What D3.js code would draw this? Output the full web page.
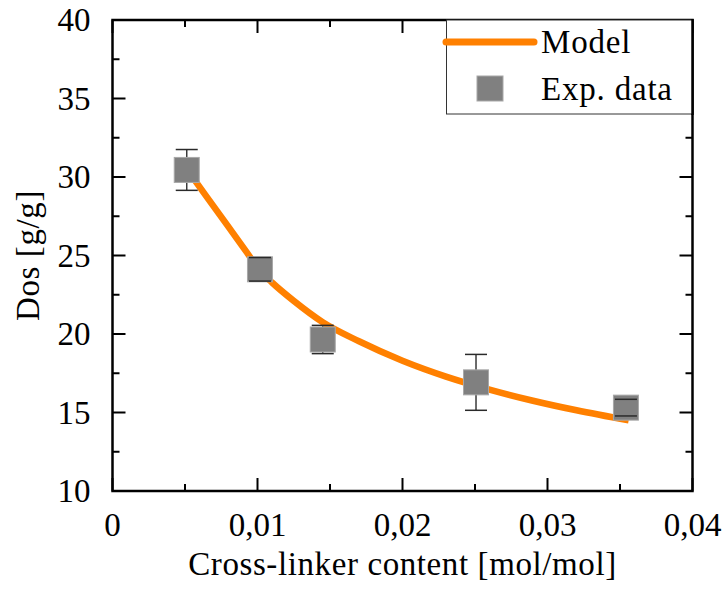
<!DOCTYPE html>
<html>
<head>
<meta charset="utf-8">
<script src="https://cdn.jsdelivr.net/npm/d3@7"></script>
<style>
  body { margin: 0; background: #fff; }
  svg text { font-family: "Liberation Serif", "DejaVu Serif", serif; fill: #000; }
</style>
</head>
<body>
<div id="chart"></div>
<script>
// experimental points
const expX = [0.00512, 0.01017, 0.0145, 0.02507, 0.03541];
const expY = [30.45, 24.12, 19.65, 16.92, 15.31];
const expErr = [1.3, 0.75, 0.9, 1.78, 0.53];

// model curve
const modelX = [0.0052, 0.0065, 0.0080, 0.0092, 0.0102, 0.0110, 0.0125, 0.0145, 0.0170, 0.0200, 0.0230, 0.0260, 0.0290, 0.0320, 0.0356];
const modelY = [30.4, 28.74, 26.82, 25.28, 24.0, 23.28, 22.11, 20.75, 19.54, 18.30, 17.29, 16.46, 15.75, 15.14, 14.5];

const xTicks = [0, 0.01, 0.02, 0.03, 0.04];
const yTicks = [10, 15, 20, 25, 30, 35, 40];
const legendLabels = ["Model", "Exp. data"];

const W = 728, H = 593;
const margin = { top: 20, right: 35.5, bottom: 102, left: 112.5 };
const width = W - margin.left - margin.right;
const height = H - margin.top - margin.bottom;
const fontSize = "33px";

const svg = d3.select("#chart").append("svg")
  .attr("width", W).attr("height", H);
const g = svg.append("g")
  .attr("transform", `translate(${margin.left},${margin.top})`);

const x = d3.scaleLinear().domain([0, 0.04]).range([0, width]);
const y = d3.scaleLinear().domain([10, 40]).range([height, 0]);

const fmt = (d) => d === 0 ? "0" : d3.format(".2f")(d).replace(".", ",");

// model line
const line = d3.line()
  .x((d) => x(d[0]))
  .y((d) => y(d[1]))
  .curve(d3.curveMonotoneX);
g.append("path")
  .datum(modelX.map((v, i) => [v, modelY[i]]))
  .attr("d", line)
  .attr("fill", "none")
  .attr("stroke", "#ff8000")
  .attr("stroke-width", 6.5);

const pts = expX.map((v, i) => ({ x: v, y: expY[i], e: expErr[i] }));
const ms = 25, cap = 11;

// error bar stems
g.selectAll(".stem").data(pts).join("line")
  .attr("x1", (d) => x(d.x)).attr("x2", (d) => x(d.x))
  .attr("y1", (d) => y(d.y + d.e)).attr("y2", (d) => y(d.y - d.e))
  .attr("stroke", "#3a3a3a").attr("stroke-width", 1.5);

// markers
g.selectAll(".mk").data(pts).join("rect")
  .attr("x", (d) => x(d.x) - ms / 2)
  .attr("y", (d) => y(d.y) - ms / 2)
  .attr("width", ms).attr("height", ms)
  .attr("fill", "#808080")
  .attr("stroke", "#a8a8a8").attr("stroke-width", 1);

// caps
pts.forEach((d) => {
  [d.y + d.e, d.y - d.e].forEach((v) => {
    g.append("line")
      .attr("x1", x(d.x) - cap).attr("x2", x(d.x) + cap)
      .attr("y1", y(v)).attr("y2", y(v))
      .attr("stroke", "#2a2a2a").attr("stroke-width", 1.5);
  });
});

// ticks on all four sides, pointing inward
const xMinor = d3.range(0.005, 0.04, 0.01);
const yMinor = d3.range(12.5, 40, 5);
const tk = g.append("g").attr("stroke", "#000").attr("stroke-width", 2);
xTicks.concat(xMinor).forEach((v) => {
  const len = xTicks.includes(v) ? 13 : 7;
  tk.append("line").attr("x1", x(v)).attr("x2", x(v)).attr("y1", height).attr("y2", height - len);
  tk.append("line").attr("x1", x(v)).attr("x2", x(v)).attr("y1", 0).attr("y2", len);
});
yTicks.concat(yMinor).forEach((v) => {
  const len = yTicks.includes(v) ? 13 : 7;
  tk.append("line").attr("y1", y(v)).attr("y2", y(v)).attr("x1", 0).attr("x2", len);
  tk.append("line").attr("y1", y(v)).attr("y2", y(v)).attr("x1", width).attr("x2", width - len);
});

// frame
g.append("rect")
  .attr("width", width).attr("height", height)
  .attr("fill", "none").attr("stroke", "#000").attr("stroke-width", 2.5);

// tick labels
g.selectAll(".xl").data(xTicks).join("text")
  .attr("x", (d) => x(d)).attr("y", height + 45)
  .attr("text-anchor", "middle")
  .style("font-size", fontSize)
  .text(fmt);
g.selectAll(".yl").data(yTicks).join("text")
  .attr("x", -22).attr("y", (d) => y(d) + 11)
  .attr("text-anchor", "end")
  .style("font-size", fontSize)
  .text((d) => d);

// axis titles
g.append("text")
  .attr("x", width / 2).attr("y", height + 84)
  .attr("text-anchor", "middle")
  .style("font-size", fontSize)
  .style("letter-spacing", "0.6px")
  .text("Cross-linker content [mol/mol]");
g.append("text")
  .attr("transform", `translate(${39 - margin.left},${height / 2}) rotate(-90)`)
  .attr("text-anchor", "middle")
  .style("font-size", fontSize)
  .style("letter-spacing", "0.6px")
  .text("Dos [g/g]");

// legend
const lg = svg.append("g");
lg.append("rect")
  .attr("x", 446.5).attr("y", 20).attr("width", 246).attr("height", 94)
  .attr("fill", "#fff").attr("stroke", "#333").attr("stroke-width", 1);
lg.append("line")
  .attr("x1", 446).attr("x2", 534).attr("y1", 42).attr("y2", 42)
  .attr("stroke", "#ff8000").attr("stroke-width", 7).attr("stroke-linecap", "round");
lg.append("rect")
  .attr("x", 477).attr("y", 76).attr("width", 26).attr("height", 25)
  .attr("fill", "#808080").attr("stroke", "#a8a8a8").attr("stroke-width", 1);
lg.selectAll("text").data(legendLabels).join("text")
  .attr("x", 541).attr("y", (d, i) => 53 + i * 47)
  .style("font-size", fontSize)
  .style("letter-spacing", "0.8px")
  .text((d) => d);
// right frame edge over legend
svg.append("line")
  .attr("x1", margin.left + width).attr("x2", margin.left + width)
  .attr("y1", 19).attr("y2", 115)
  .attr("stroke", "#000").attr("stroke-width", 2.5);
</script>
</body>
</html>
